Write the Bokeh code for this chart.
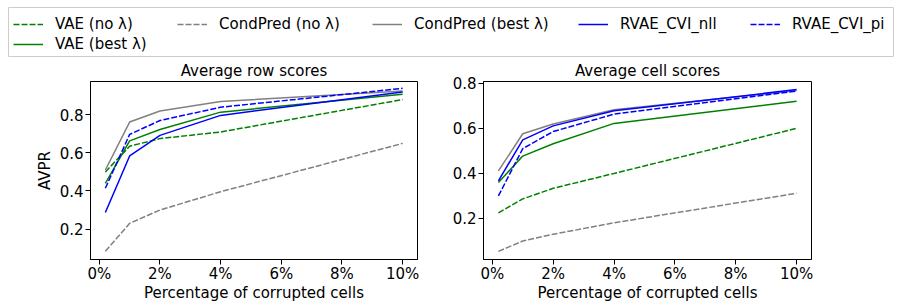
from bokeh.plotting import figure
from bokeh.models import Range1d, FixedTicker, PrintfTickFormatter, Legend, LegendItem
from bokeh.layouts import column, row
from bokeh.embed import file_html
from bokeh.resources import INLINE

# ---------------- data ----------------
pct = [0.2, 1, 2, 4, 10]
x_ticks = [0, 2, 4, 6, 8, 10]
y_ticks = [0.2, 0.4, 0.6, 0.8]

series_names = ["VAE (no λ)", "VAE (best λ)", "CondPred (no λ)",
                "CondPred (best λ)", "RVAE_CVI_nll", "RVAE_CVI_pi"]
series_colors = ["#008000", "#008000", "#808080", "#808080", "#0000ff", "#0000ff"]
series_dash = ["6 2", "solid", "6 2", "solid", "solid", "6 2"]

row_vae_no = [0.50, 0.635, 0.675, 0.71, 0.88]
row_vae_best = [0.44, 0.663, 0.723, 0.814, 0.908]
row_cp_no = [0.083, 0.23, 0.30, 0.396, 0.65]
row_cp_best = [0.51, 0.762, 0.82, 0.87, 0.925]
row_rvae_nll = [0.287, 0.584, 0.692, 0.797, 0.92]
row_rvae_pi = [0.414, 0.697, 0.77, 0.84, 0.939]

cell_vae_no = [0.225, 0.287, 0.334, 0.40, 0.60]
cell_vae_best = [0.36, 0.477, 0.532, 0.622, 0.72]
cell_cp_no = [0.054, 0.10, 0.13, 0.181, 0.312]
cell_cp_best = [0.411, 0.576, 0.619, 0.683, 0.768]
cell_rvae_nll = [0.367, 0.549, 0.611, 0.678, 0.772]
cell_rvae_pi = [0.30, 0.51, 0.586, 0.663, 0.765]

row_scores = [row_vae_no, row_vae_best, row_cp_no, row_cp_best, row_rvae_nll, row_rvae_pi]
cell_scores = [cell_vae_no, cell_vae_best, cell_cp_no, cell_cp_best, cell_rvae_nll, cell_rvae_pi]

FONT = "DejaVu Sans"
FS = "15px"


def make_panel(title, scores, width, y_range, border_left, border_right, ylabel=None):
    p = figure(width=width, height=251, output_backend="svg", toolbar_location=None,
               x_range=Range1d(-0.29, 10.49), y_range=y_range,
               min_border_left=border_left, min_border_right=border_right,
               min_border_top=24, min_border_bottom=49)
    p.title.text = title
    p.title.align = "center"
    p.title.text_font = FONT
    p.title.text_font_size = FS
    p.title.text_font_style = "normal"
    p.title.text_color = "black"
    p.title.standoff = 3
    for vals, c, d in zip(scores, series_colors, series_dash):
        p.line(pct, vals, line_color=c, line_dash=d, line_width=1.5)
    p.grid.visible = False
    p.outline_line_color = "black"
    p.outline_line_alpha = 1
    p.outline_line_width = 1
    p.xaxis.ticker = FixedTicker(ticks=x_ticks)
    p.xaxis.formatter = PrintfTickFormatter(format="%d%%")
    p.yaxis.ticker = FixedTicker(ticks=y_ticks)
    p.xaxis.axis_label = "Percentage of corrupted cells"
    if ylabel:
        p.yaxis.axis_label = ylabel
    for ax in list(p.xaxis) + list(p.yaxis):
        ax.axis_line_color = "black"
        ax.major_tick_line_color = "black"
        ax.minor_tick_line_color = None
        ax.major_tick_in = 0
        ax.major_tick_out = 5
        ax.major_label_text_font = FONT
        ax.major_label_text_font_size = FS
        ax.major_label_text_color = "black"
        ax.axis_label_text_font = FONT
        ax.axis_label_text_font_size = FS
        ax.axis_label_text_font_style = "normal"
        ax.axis_label_text_color = "black"
    p.xaxis.major_label_standoff = 0
    p.xaxis.axis_label_standoff = -2
    p.yaxis.major_label_standoff = 2
    p.yaxis.axis_label_standoff = 3
    return p


p1 = make_panel("Average row scores", row_scores, 440, Range1d(0.04, 0.975), 90, 23, ylabel="AVPR")
p2 = make_panel("Average cell scores", cell_scores, 459, Range1d(0.018, 0.808), 43, 88)

# ---------------- legend strip ----------------
# data drawn here lies outside this strip's ranges; only the legend glyphs show
leg = figure(width=899, height=57, output_backend="svg", toolbar_location=None,
             x_range=Range1d(-30, -20), y_range=Range1d(-30, -20),
             x_axis_location=None, y_axis_location=None,
             min_border_left=8, min_border_right=6,
             min_border_top=7, min_border_bottom=1)
leg.grid.visible = False
leg.outline_line_color = "#cccccc"
leg.outline_line_width = 1

legend_pos = [(5, 23), (5, 3), (169, 23), (364, 23), (570, 23), (742, 23)]
for name, c, d, loc, vals in zip(series_names, series_colors, series_dash, legend_pos, row_scores):
    r = leg.line(pct, vals, line_color=c, line_dash=d, line_width=1.5)
    lg = Legend(items=[LegendItem(label=name, renderers=[r])], location=loc,
                orientation="horizontal", padding=0, margin=0, spacing=0,
                glyph_width=30, glyph_height=18, label_height=18,
                label_standoff=12, label_text_font=FONT, label_text_font_size=FS,
                label_text_color="black", border_line_alpha=0,
                background_fill_alpha=0)
    leg.add_layout(lg, "center")

layout = column(leg, row(p1, p2))

open("out.html", "w").write(file_html(layout, INLINE))
